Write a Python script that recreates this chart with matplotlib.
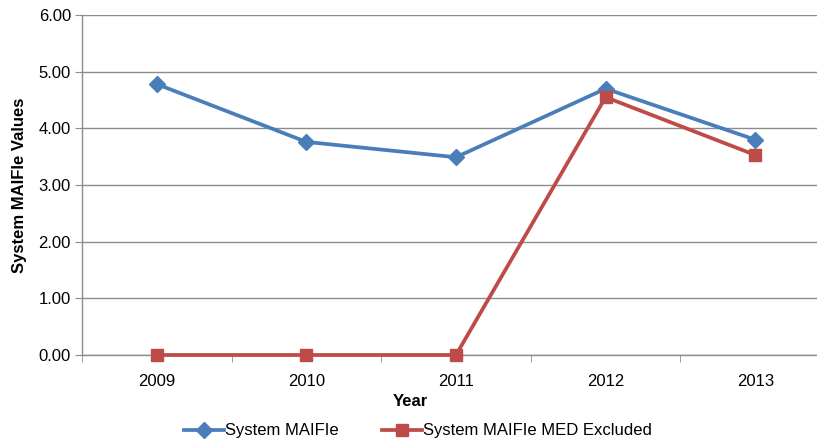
import matplotlib.pyplot as plt
import numpy as np

plt.rcParams['font.family'] = ['Liberation Sans', 'DejaVu Sans']

years = ['2009', '2010', '2011', '2012', '2013']
maifie = [4.78, 3.76, 3.49, 4.70, 3.80]
maifie_med_excl = [0.0, 0.0, 0.0, 4.55, 3.53]

blue = '#4A7EBB'
red = '#BE4B48'
grid_col = '#8C8C8C'


def main():
    fig = plt.figure(figsize=(8.17, 4.43), dpi=100)
    W, H = 817, 443
    ax = fig.add_axes([82 / W, 1 - 355 / H, (830 - 82) / W, (355 - 15) / H])

    x = np.arange(len(years))
    ax.plot(x, maifie, color=blue, lw=2.7, marker='D', ms=8,
            label='System MAIFIe', clip_on=False, zorder=3)
    ax.plot(x, maifie_med_excl, color=red, lw=2.7, marker='s', ms=9,
            label='System MAIFIe MED Excluded', clip_on=False, zorder=4)

    ax.set_xlim(-0.5, len(years) - 0.5)
    ax.set_ylim(0, 6)
    ax.set_yticks(np.arange(0, 7, 1))
    ax.set_yticklabels([f'{v:.2f}' for v in range(7)])
    ax.set_xticks(x)
    ax.set_xticklabels(years)
    ax.set_xticks(np.arange(-0.5, len(years), 1), minor=True)
    ax.tick_params(axis='x', which='major', length=0, pad=14, labelsize=12)
    ax.tick_params(axis='x', which='minor', length=5, color=grid_col)
    ax.tick_params(axis='y', length=5, color=grid_col, pad=3, labelsize=12)

    ax.yaxis.grid(True, color=grid_col, lw=1)
    ax.set_axisbelow(True)
    for s in ['top', 'right']:
        ax.spines[s].set_visible(False)
    for s in ['left', 'bottom']:
        ax.spines[s].set_color(grid_col)
        ax.spines[s].set_linewidth(1)

    ax.set_ylabel('System MAIFIe Values', fontsize=12, fontweight='bold', labelpad=8)
    fig.text(410 / W, 1 - 402 / H, 'Year', fontsize=12, fontweight='bold',
             ha='center', va='center')

    fig.legend(loc='center', bbox_to_anchor=(418 / W, 1 - 431 / H), ncol=2,
               frameon=False, fontsize=12, handlelength=2.4, columnspacing=2.6,
               handletextpad=0.05)

    fig.savefig('out.png', dpi=100)


if __name__ == '__main__':
    main()
